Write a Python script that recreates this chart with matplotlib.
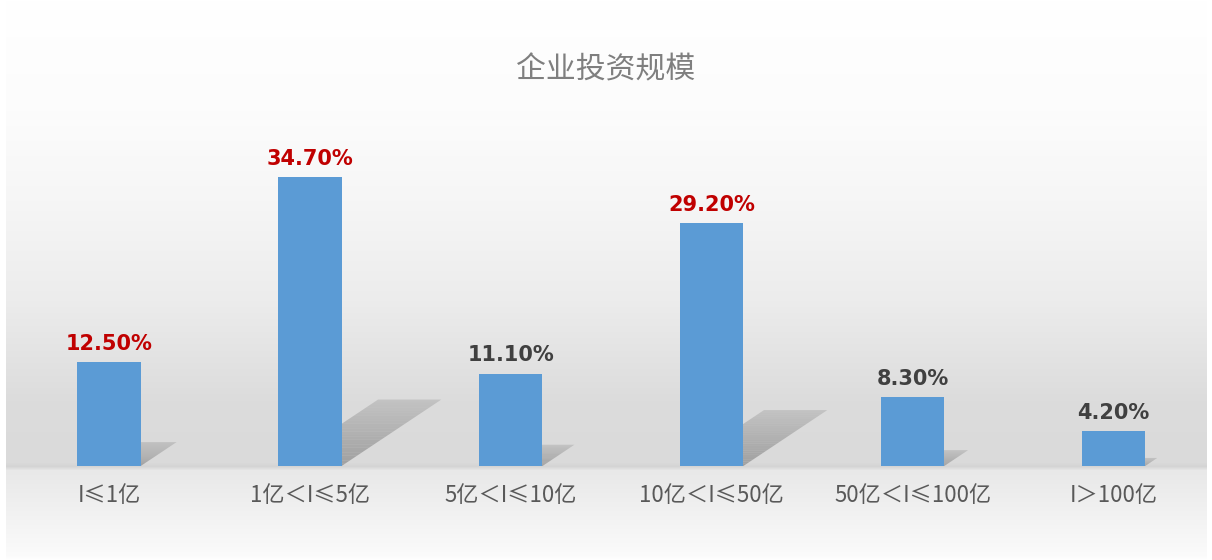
import numpy as np
import matplotlib
matplotlib.use("Agg")
import matplotlib.pyplot as plt
from matplotlib.patches import Polygon

categories = ["I≤1亿", "1亿＜I≤5亿", "5亿＜I≤10亿", "10亿＜I≤50亿", "50亿＜I≤100亿", "I＞100亿"]
values = [12.5, 34.7, 11.1, 29.2, 8.3, 4.2]
value_labels = ["12.50%", "34.70%", "11.10%", "29.20%", "8.30%", "4.20%"]
highlight = [True, True, False, True, False, False]
title = "企业投资规模"

plt.rcParams['font.family'] = ['Noto Sans CJK SC', 'DejaVu Sans']

W, H = 1212, 560
fig = plt.figure(figsize=(W / 100, H / 100), dpi=100)
fig.patch.set_facecolor("white")

# background gradient panel
bg = fig.add_axes([0, 0, 1, 1], zorder=-10)
rows = np.arange(H)
keys_y = [0, 110, 200, 300, 400, 462, 466, 470, 520, 556, 560]
keys_v = [255, 252, 246, 236, 220, 218, 212, 232, 243, 251, 255]
prof = np.interp(rows, keys_y, keys_v) / 255.0
img = np.tile(prof[:, None], (1, W))
img[:, :6] = 1.0
img[:, W - 5:] = 1.0
bg.imshow(np.dstack([img, img, img]), aspect="auto", extent=[0, W, H, 0])
bg.axis("off")

ax = fig.add_axes([0.0071, 1 - 466 / 560, 0.9945, (466 - 133) / 560])
ax.patch.set_alpha(0)
x = np.arange(len(categories))
bw = 0.315

# perspective shadows (sheared copies of the bars)
for xi, v in zip(x, values):
    dxu = v * 0.01431
    dyu = v * 0.23
    n = 25
    for k in range(n):
        f0, f1 = k / n, (k + 1) / n
        poly = Polygon([
            (xi - bw / 2 + dxu * f0, dyu * f0), (xi + bw / 2 + dxu * f0, dyu * f0),
            (xi + bw / 2 + dxu * f1, dyu * f1), (xi - bw / 2 + dxu * f1, dyu * f1)],
            closed=True, facecolor="#7A7A7A", edgecolor="none",
            alpha=0.6 * (1 - 0.6 * f0), zorder=1)
        ax.add_patch(poly)

ax.bar(x, values, width=bw, color="#5B9BD5", zorder=3)

for xi, v, lab, hl in zip(x, values, value_labels, highlight):
    ax.annotate(lab, (xi, v), xytext=(0, 6), textcoords="offset points",
                ha="center", va="bottom", fontsize=15, fontweight="bold",
                family=["DejaVu Sans"], color="#C00000" if hl else "#404040")

ax.set_xlim(-0.5, len(categories) - 0.5)
ax.set_ylim(0, 40)
ax.set_xticks(x)
ax.set_xticklabels(categories, fontsize=16, color="#595959")
ax.tick_params(axis="x", length=0, pad=13)
ax.set_yticks([])
for s in ax.spines.values():
    s.set_visible(False)

fig.text(0.5, 1 - 70 / 560, title, ha="center", va="center", fontsize=21.5,
         color="#7F7F7F")

fig.savefig("out.png", dpi=100)
